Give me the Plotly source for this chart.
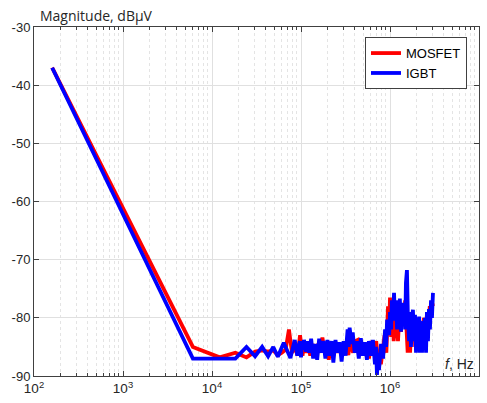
import plotly.graph_objects as go

# ---- data ----
mosfet_f = [160, 6100, 12200, 18300, 24400, 30500, 36600, 42700, 48800, 54900,
            61000, 67100, 73200, 79300, 85400, 91500, 97600,
            1.0e5, 1.04e5, 1.08e5, 1.14e5, 1.2e5, 1.27e5, 1.35e5, 1.45e5, 1.55e5, 1.65e5,
            1.74e5, 1.85e5, 1.95e5, 2.05e5, 2.15e5, 2.3e5, 2.45e5, 2.6e5, 2.8e5, 3.0e5,
            3.2e5, 3.4e5, 3.6e5, 3.85e5, 4.1e5, 4.35e5, 4.6e5, 4.9e5, 5.2e5, 5.5e5,
            5.8e5, 6.2e5, 6.6e5, 7.0e5, 7.3e5, 7.6e5, 7.9e5, 8.3e5, 8.7e5, 9.1e5,
            9.5e5, 9.8e5, 1.0e6, 1.03e6, 1.06e6, 1.1e6, 1.14e6, 1.18e6, 1.23e6, 1.28e6,
            1.33e6, 1.38e6, 1.43e6, 1.48e6, 1.53e6, 1.58e6, 1.63e6, 1.68e6, 1.74e6, 1.8e6,
            1.86e6, 1.92e6, 1.98e6, 2.05e6, 2.12e6, 2.19e6, 2.26e6, 2.33e6, 2.4e6, 2.5e6,
            2.6e6, 2.7e6, 2.8e6, 2.9e6, 2.99e6, 3.04e6]
mosfet_db = [-37, -85, -86.8, -86, -86.8, -85.8, -85.6, -85.8, -85.6, -86.4,
             -86, -85.5, -82, -86, -85, -86.5, -83,
             -85, -86.5, -84.5, -86, -84.5, -86.5, -84.5, -86.2, -84.5, -86,
             -83.4, -86, -84.5, -87.2, -85, -86.5, -84.5, -86, -84.5, -86,
             -84.5, -86.4, -84, -86, -84, -83.8, -86.5, -84.5, -86.5, -85,
             -87, -84, -86.5, -84, -87, -85.5, -88, -85, -83, -86,
             -78, -82, -76.5, -83.3, -78, -84, -79, -81, -84, -79,
             -82.4, -78.5, -81, -77, -82, -86, -80, -86, -81, -84,
             -80, -85, -81, -85, -81, -85, -82, -84, -80, -83,
             -79.5, -82, -78, -80, -77.5, -78]

igbt_f = [160, 6100, 12200, 18300, 24400, 30500, 36600, 42700, 48800, 54900,
          64000, 76000, 85000, 91000, 97000,
          1.0e5, 1.03e5, 1.05e5, 1.08e5, 1.14e5, 1.17e5, 1.23e5, 1.30e5, 1.37e5, 1.44e5,
          1.52e5, 1.60e5, 1.69e5, 1.78e5, 1.88e5, 1.98e5, 2.08e5, 2.20e5, 2.31e5, 2.44e5,
          2.57e5, 2.71e5, 2.86e5, 3.01e5, 3.17e5, 3.34e5, 3.43e5, 3.52e5, 3.71e5, 3.81e5,
          4.01e5, 4.23e5, 4.46e5, 4.70e5, 4.95e5, 5.22e5, 5.50e5, 5.79e5, 6.10e5, 6.43e5,
          6.78e5, 6.96e5, 7.14e5, 7.33e5, 7.52e5, 7.93e5, 8.36e5, 8.81e5, 9.04e5, 9.28e5,
          9.78e5, 1.0e6, 1.03e6, 1.05e6, 1.08e6, 1.11e6, 1.14e6, 1.17e6, 1.20e6, 1.23e6,
          1.26e6, 1.29e6, 1.33e6, 1.36e6, 1.40e6, 1.44e6, 1.48e6, 1.51e6, 1.55e6, 1.59e6,
          1.64e6, 1.68e6, 1.72e6, 1.77e6, 1.81e6, 1.86e6, 1.91e6, 1.96e6, 2.01e6, 2.06e6,
          2.12e6, 2.17e6, 2.23e6, 2.29e6, 2.35e6, 2.41e6, 2.47e6, 2.54e6, 2.60e6, 2.67e6,
          2.74e6, 2.81e6, 2.89e6, 2.96e6, 3.04e6]
igbt_db = [-37, -87, -87, -87, -85, -86.6, -85, -86.6, -85, -86.7,
           -84.3, -86.9, -83.8, -86.5, -84,
           -86.8, -84, -85.5, -83.8, -85.8, -84, -86, -83.6, -87, -84.5,
           -87.2, -83.6, -86, -84, -87, -83.8, -86.5, -84, -87.7, -83.8,
           -86, -84.2, -87.5, -84, -86.5, -82, -85, -81.7, -84.5, -82.5,
           -86, -84, -87, -83.5, -86.5, -84.2, -87.2, -84, -86.5, -83.8,
           -88, -85, -89.8, -86, -89, -84.5, -87, -82, -85, -80.3,
           -83, -79, -82, -77, -80, -75.7, -80.5, -77.5, -82, -77,
           -81.5, -76.7, -82.4, -77.4, -81, -78, -82, -74, -71.8, -80,
           -84, -79, -85, -80, -78.6, -84, -79.5, -86, -80, -85.5,
           -79.8, -86, -81, -86, -80.5, -85.5, -80, -86, -79, -84,
           -78.5, -82, -77, -80, -75.7, -77]

x_tick_vals = [1e2, 1e3, 1e4, 1e5, 1e6, 1e7]
x_tick_text = ["10<sup>2</sup>", "10<sup>3</sup>", "10<sup>4</sup>", "10<sup>5</sup>",
               "10<sup>6</sup>", "10<sup>7</sup>"]
y_tick_vals = [-90, -80, -70, -60, -50, -40, -30]
y_tick_text = ["-90", "-80", "-70", "-60", "-50", "-40", "-30"]

fig = go.Figure()
fig.add_trace(go.Scatter(x=mosfet_f, y=mosfet_db, mode="lines", name="MOSFET",
                         line=dict(color="#ff0000", width=3.8)))
fig.add_trace(go.Scatter(x=igbt_f, y=igbt_db, mode="lines", name="IGBT",
                         line=dict(color="#0000ff", width=3.8)))

axis_col = "#404040"
fig.update_layout(
    width=487, height=403,
    margin=dict(l=34, r=8, t=27, b=27),
    paper_bgcolor="white", plot_bgcolor="white",
    font=dict(family="Liberation Sans, Arial", size=13, color="#262626"),
    showlegend=True,
    legend=dict(x=0.973, y=0.971, xanchor="right", yanchor="top",
                bgcolor="white", bordercolor="#404040", borderwidth=1,
                font=dict(family="Liberation Sans, Arial", size=13, color="#000000"),
                tracegroupgap=0, itemwidth=30),
    xaxis=dict(type="log", range=[2, 7], tickvals=x_tick_vals, ticktext=x_tick_text,
               showline=True, linecolor=axis_col, linewidth=1, mirror="allticks",
               ticks="inside", ticklen=5, tickcolor=axis_col,
               showgrid=True, gridcolor="#e0e0e0", gridwidth=1, zeroline=False,
               minor=dict(dtick="D1", ticks="inside", ticklen=3, tickcolor=axis_col,
                          showgrid=True, gridcolor="#e4e4e4", griddash="dot", gridwidth=1),
               tickfont=dict(size=13.5, color="#262626")),
    yaxis=dict(range=[-90, -30], tickvals=y_tick_vals, ticktext=y_tick_text,
               showline=True, linecolor=axis_col, linewidth=1, mirror="allticks",
               ticks="inside", ticklen=5, tickcolor=axis_col,
               showgrid=True, gridcolor="#e0e0e0", gridwidth=1, zeroline=False,
               tickfont=dict(size=13, color="#262626")),
    annotations=[
        dict(text="Magnitude, dBµV", xref="paper", yref="paper", x=0.008, y=1.0,
             xanchor="left", yanchor="bottom", showarrow=False, yshift=0,
             font=dict(family="Open Sans", size=14, color="#262626")),
        dict(text="<i>f</i>, Hz", xref="paper", yref="paper", x=0.993, y=0.0,
             xanchor="right", yanchor="bottom", showarrow=False, yshift=2,
             font=dict(family="Liberation Sans, Arial", size=14, color="#262626")),
    ],
)

fig.write_html("out.html")
